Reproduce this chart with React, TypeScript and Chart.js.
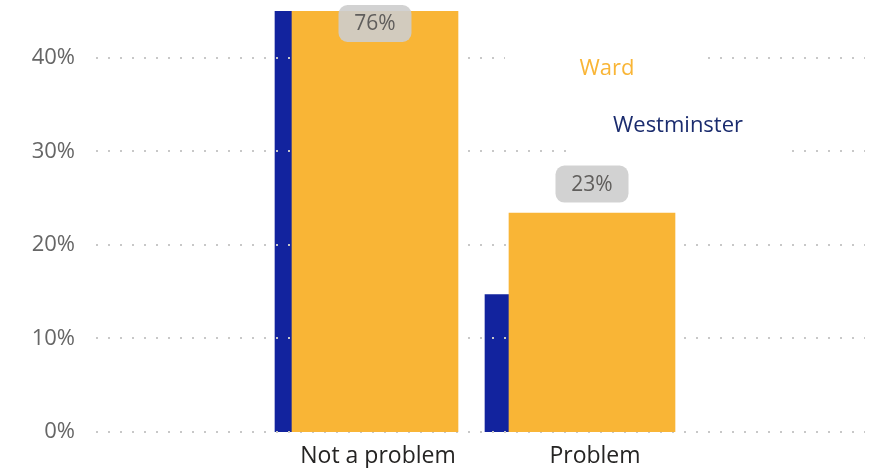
import React, { useEffect, useRef } from "react";
import { Chart, registerables } from "chart.js";

Chart.register(...registerables);

const categories = ["Not a problem", "Problem"];
const wardValues = [76, 23.4];
const westminsterValues = [85, 14.7];
const yTicks = [0, 10, 20, 30, 40];
const seriesNames = ["Ward", "Westminster"];

const FONT = "'Segoe UI', 'Open Sans', sans-serif";
const ORANGE = "#F9B536";
const BLUE = "#12239E";
const NAVY = "#1B2C6E";

export default function App() {
  const ref = useRef<HTMLCanvasElement | null>(null);

  useEffect(() => {
    document.body.style.margin = "0";
    const canvas = ref.current!;

    const gridPlugin = {
      id: "dotGrid",
      afterDatasetDraw(chart: any, args: any) {
        if (args.index !== 1) return;
        const { ctx, chartArea } = chart;
        const ys = chart.scales.y;
        ctx.save();
        ctx.strokeStyle = "#c8c8c8";
        ctx.lineWidth = 2;
        ctx.setLineDash([2, 10]);
        yTicks.forEach((v) => {
          const y = Math.round(ys.getPixelForValue(v));
          ctx.beginPath();
          ctx.moveTo(chartArea.left + 1, y);
          ctx.lineTo(chartArea.right, y);
          ctx.stroke();
        });
        ctx.restore();
      },
    };

    const labelPlugin = {
      id: "labels",
      afterDraw(chart: any) {
        const { ctx, chartArea } = chart;
        ctx.save();
        const legend = [
          { text: seriesNames[0], color: ORANGE, cx: 607, cy: 69, left: 505, right: 708, top: 40, bottom: 96 },
          { text: seriesNames[1], color: NAVY, cx: 678, cy: 126, left: 566, right: 791, top: 100, bottom: 158 },
        ];
        ctx.font = `22px ${FONT}`;
        legend.forEach((l) => {
          ctx.fillStyle = "#ffffff";
          ctx.fillRect(l.left, l.top, l.right - l.left, l.bottom - l.top);
          ctx.fillStyle = l.color;
          ctx.textAlign = "center";
          ctx.textBaseline = "middle";
          ctx.fillText(l.text, l.cx, l.cy);
        });
        const meta = chart.getDatasetMeta(0);
        meta.data.forEach((el: any, i: number) => {
          const bw = 73, bh = 37;
          let cy: number;
          if (el.y < chartArea.top) cy = chartArea.top + 12.5;
          else cy = el.y - 10.5 - bh / 2;
          const cx = el.x;
          ctx.fillStyle = "rgba(205,205,205,0.9)";
          ctx.beginPath();
          (ctx as any).roundRect(cx - bw / 2, cy - bh / 2, bw, bh, 9);
          ctx.fill();
          ctx.fillStyle = "#605E5C";
          ctx.font = `21px ${FONT}`;
          ctx.textAlign = "center";
          ctx.textBaseline = "middle";
          ctx.fillText(`${Math.round(wardValues[i])}%`, cx, cy + 1);
        });
        ctx.restore();
      },
    };

    const chart = new Chart(canvas, {
      type: "bar",
      data: {
        datasets: [
          {
            label: seriesNames[0],
            data: categories.map((_, i) => ({ x: i, y: wardValues[i] })),
            backgroundColor: ORANGE,
            barThickness: 166,
            grouped: false,
            xAxisID: "x",
            order: 0,
          },
          {
            label: seriesNames[1],
            data: categories.map((_, i) => ({ x: i, y: westminsterValues[i] })),
            backgroundColor: BLUE,
            barThickness: 166,
            grouped: false,
            xAxisID: "x2",
            order: 1,
          },
        ],
      },
      plugins: [gridPlugin, labelPlugin],
      options: {
        responsive: false,
        animation: false,
        layout: { padding: { top: 11, right: 10, left: 0, bottom: 0 } },
        plugins: { legend: { display: false }, tooltip: { enabled: false } },
        scales: {
          x: {
            type: "linear",
            offset: false,
            min: -1.2903,
            max: 2.2581,
            grid: { display: false, drawTicks: false, offset: false },
            border: { display: false },
            afterBuildTicks: (s: any) => {
              s.ticks = categories.map((_, i) => ({ value: i }));
            },
            afterFit: (s: any) => {
              s.height = 36;
              s.paddingLeft = 0;
              s.paddingRight = 0;
            },
            ticks: {
              autoSkip: false,
              maxRotation: 0,
              labelOffset: 3,
              padding: 11,
              color: "#252423",
              font: { family: FONT, size: 23 },
              callback: (v: any) => categories[v] ?? "",
            },
          },
          x2: {
            type: "linear",
            display: false,
            offset: false,
            grid: { offset: false },
            min: -1.25238,
            max: 2.41429,
          },
          y: {
            min: 0,
            max: 45,
            grid: { display: false, drawTicks: false },
            border: { display: false },
            afterBuildTicks: (s: any) => {
              s.ticks = yTicks.map((v) => ({ value: v }));
            },
            afterFit: (s: any) => {
              s.width = 95;
              s.paddingTop = 0;
              s.paddingBottom = 0;
            },
            ticks: {
              padding: 20,
              color: "#666666",
              font: { family: FONT, size: 22 },
              callback: (v: any) => `${v}%`,
            },
          },
        },
      },
    } as any);

    return () => chart.destroy();
  }, []);

  return (
    <div style={{ width: 875, height: 468 }}>
      <canvas ref={ref} width={875} height={468} />
    </div>
  );
}
